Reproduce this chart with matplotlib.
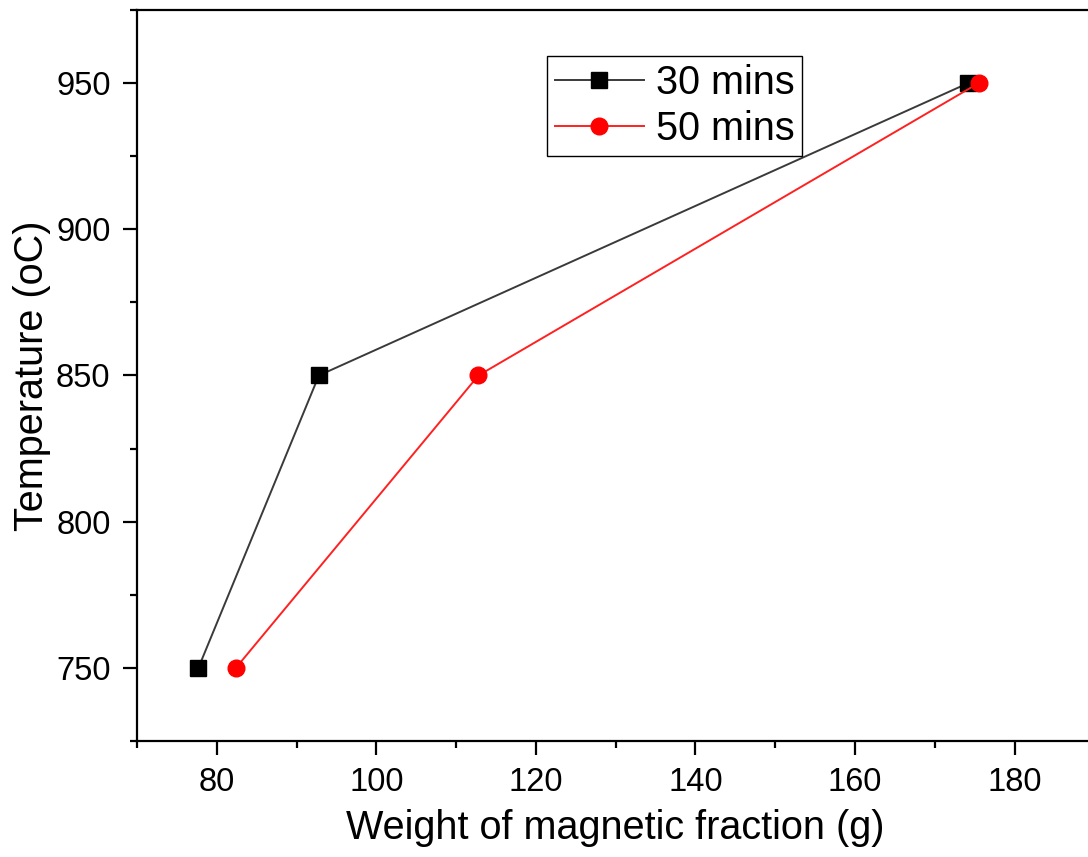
import numpy as np
import matplotlib
matplotlib.use('Agg')
import matplotlib.pyplot as plt
from matplotlib.ticker import MultipleLocator

plt.rcParams['font.family'] = ['Liberation Sans', 'DejaVu Sans']

# Données : poids de la fraction magnétique en fonction de la température
temperature = [750, 850, 950]
weight_30 = [77.7, 92.8, 174.2]
weight_50 = [82.4, 112.8, 175.5]
labels = ['30 mins', '50 mins']

fig = plt.figure(figsize=(10.88, 8.57), dpi=100)
ax = fig.add_axes([0.1259, 0.1354, 0.880, 0.853])

ax.plot(weight_30, temperature, '-', color='#3a3a3a', linewidth=1.4,
        marker='s', markersize=11, markerfacecolor='black', markeredgecolor='black',
        label=labels[0])
ax.plot(weight_50, temperature, '-', color='#ff2020', linewidth=1.4,
        marker='o', markersize=12, markerfacecolor='red', markeredgecolor='red',
        label=labels[1])

ax.set_xlim(70, 190)
ax.set_ylim(725, 975)
ax.xaxis.set_major_locator(MultipleLocator(20))
ax.xaxis.set_minor_locator(MultipleLocator(10))
ax.yaxis.set_major_locator(MultipleLocator(50))
ax.yaxis.set_minor_locator(MultipleLocator(25))

for side in ax.spines.values():
    side.set_linewidth(1.6)
ax.tick_params(which='major', direction='out', length=10, width=1.6, labelsize=23.5, pad=9)
ax.tick_params(which='minor', direction='out', length=5, width=1.6)

ax.set_xlabel('Weight of magnetic fraction (g)', fontsize=28.5, labelpad=8)
ax.set_ylabel('Temperature (oC)', fontsize=28.5, labelpad=4)

leg = ax.legend(loc='upper left', bbox_to_anchor=(0.428, 0.937), fontsize=28.5,
                frameon=True, fancybox=False, edgecolor='black', framealpha=1,
                handlelength=2.25, handletextpad=0.3, borderpad=0.2,
                labelspacing=0.2, borderaxespad=0)
leg.get_frame().set_linewidth(1.0)

plt.savefig('out.png', dpi=100)
